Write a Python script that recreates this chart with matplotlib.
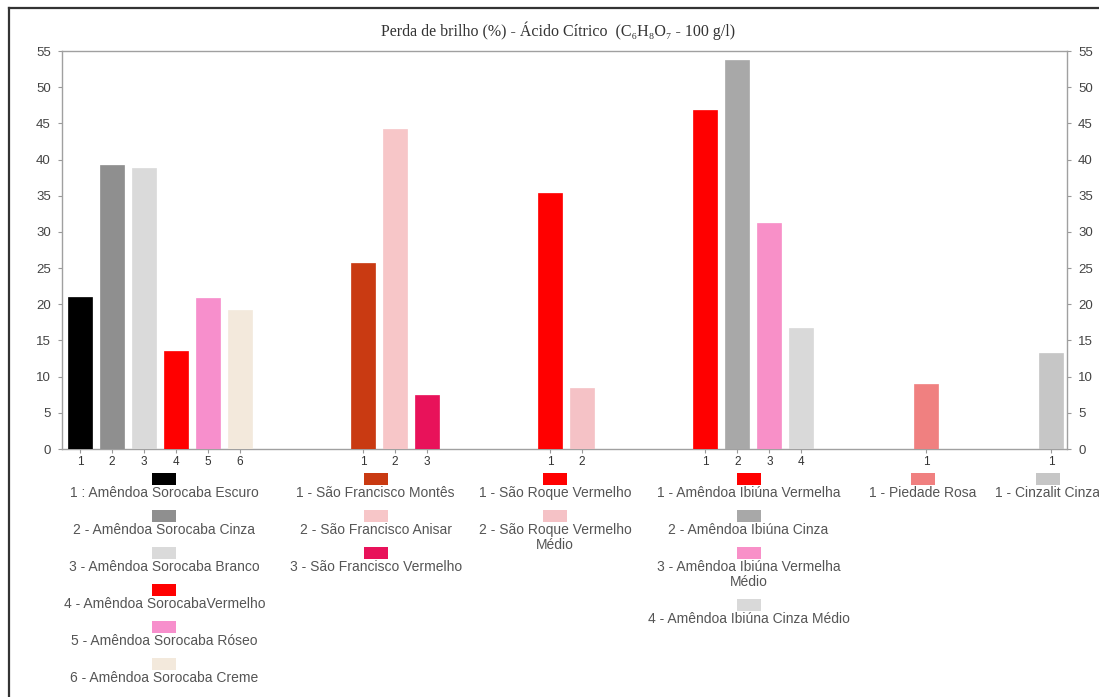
import matplotlib
matplotlib.use("Agg")
import matplotlib.pyplot as plt
from matplotlib.patches import Rectangle
from matplotlib.lines import Line2D
import matplotlib.transforms as mtransforms

# ---------------- data ----------------
title = "Perda de brilho (%) - Ácido Cítrico  (C₆H₈O₇ - 100 g/l)"

g1_values = [21.0, 39.2, 38.8, 13.5, 20.9, 19.2]
g1_labels = ["1 : Amêndoa Sorocaba Escuro", "2 - Amêndoa Sorocaba Cinza",
             "3 - Amêndoa Sorocaba Branco", "4 - Amêndoa SorocabaVermelho",
             "5 - Amêndoa Sorocaba Róseo", "6 - Amêndoa Sorocaba Creme"]
g1_colors = ["#000000", "#8f8f8f", "#dadada", "#ff0000", "#f78fcc", "#f3e9dc"]

g2_values = [25.7, 44.2, 7.5]
g2_labels = ["1 - São Francisco Montês", "2 - São Francisco Anisar",
             "3 - São Francisco Vermelho"]
g2_colors = ["#c93a12", "#f7c6c8", "#e8125a"]

g3_values = [35.4, 8.4]
g3_labels = ["1 - São Roque Vermelho", "2 - São Roque Vermelho\nMédio"]
g3_colors = ["#ff0000", "#f5c2c6"]

g4_values = [46.8, 53.7, 31.2, 16.7]
g4_labels = ["1 - Amêndoa Ibiúna Vermelha", "2 - Amêndoa Ibiúna Cinza",
             "3 - Amêndoa Ibiúna Vermelha\nMédio", "4 - Amêndoa Ibiúna Cinza Médio"]
g4_colors = ["#ff0000", "#a8a8a8", "#f890c8", "#d9d9d9"]

g5_values = [9.0]
g5_labels = ["1 - Piedade Rosa"]
g5_colors = ["#f08080"]

g6_values = [13.3]
g6_labels = ["1 - Cinzalit Cinza"]
g6_colors = ["#c6c6c6"]

y_ticks = list(range(0, 56, 5))

groups = [
    (g1_values, g1_labels, g1_colors),
    (g2_values, g2_labels, g2_colors),
    (g3_values, g3_labels, g3_colors),
    (g4_values, g4_labels, g4_colors),
    (g5_values, g5_labels, g5_colors),
    (g6_values, g6_labels, g6_colors),
]

# ---------------- layout ----------------
W, H = 1099, 697
group_start = [0.56, 9.4, 15.25, 20.1, 27.0, 30.9]      # first bar position (slot units)
legend_center = [3.2, 9.8, 15.4, 21.45, 26.9, 30.8]
bar_w = 0.75

fig = plt.figure(figsize=(W / 100, H / 100), dpi=100)
fig.patch.set_facecolor("white")
ax = fig.add_axes([62 / W, 1 - 449 / H, (1067 - 62) / W, (449 - 51) / H])

sans = ["Liberation Sans", "DejaVu Sans"]
serif = ["Liberation Serif", "DejaVu Serif"]

ticks_x, ticks_lbl = [], []
for (vals, labels, colors), x0 in zip(groups, group_start):
    xs = [x0 + i for i in range(len(vals))]
    ax.bar(xs, vals, width=bar_w, color=colors, edgecolor=colors, linewidth=0.5, zorder=3)
    ticks_x += xs
    ticks_lbl += [str(i + 1) for i in range(len(vals))]

ax.set_xlim(0, 31.4)
ax.set_ylim(0, 55)
ax.set_xticks(ticks_x)
ax.set_xticklabels(ticks_lbl, fontsize=8.5, color="#333333", family=sans)
ax.tick_params(axis="x", length=3, pad=2, color="#999999")
ax.set_yticks(y_ticks)
ax.tick_params(axis="y", labelsize=9.5, labelcolor="#444444", length=3, pad=5,
               color="#999999", left=True, right=True, labelleft=True, labelright=True)
for lbl in ax.get_yticklabels():
    lbl.set_family(sans)
for s in ax.spines.values():
    s.set_color("#a0a0a0")
    s.set_linewidth(1.0)

# title
fig.text(0.5 * (375 + 742) / W, 1 - 31 / H, title, ha="center", va="center",
         fontsize=11.5, color="#333333", family=serif)

# legends below the groups
trans = mtransforms.blended_transform_factory(ax.transData, fig.transFigure)
for (vals, labels, colors), xc in zip(groups, legend_center):
    cursor = 479
    for lab, col in zip(labels, colors):
        rect = Rectangle((xc - bar_w / 2, 1 - (cursor + 6) / H), bar_w, 12 / H,
                         transform=trans, facecolor=col, edgecolor="none", clip_on=False)
        fig.add_artist(rect)
        nl = lab.count("\n") + 1
        ax.text(xc, 1 - (cursor + 7) / H, lab, transform=trans, ha="center", va="top",
                fontsize=10, color="#555555", family=sans, linespacing=1.05, clip_on=False)
        cursor += 37 + 15 * (nl - 1)

# outer frame (left and top)
fig.add_artist(Line2D([9 / W, 9 / W], [0, 1 - 8 / H], transform=fig.transFigure,
                      color="#333333", linewidth=1.6))
fig.add_artist(Line2D([9 / W, 1], [1 - 8 / H, 1 - 8 / H], transform=fig.transFigure,
                      color="#333333", linewidth=1.6))

fig.savefig("out.png", dpi=100, facecolor="white")
